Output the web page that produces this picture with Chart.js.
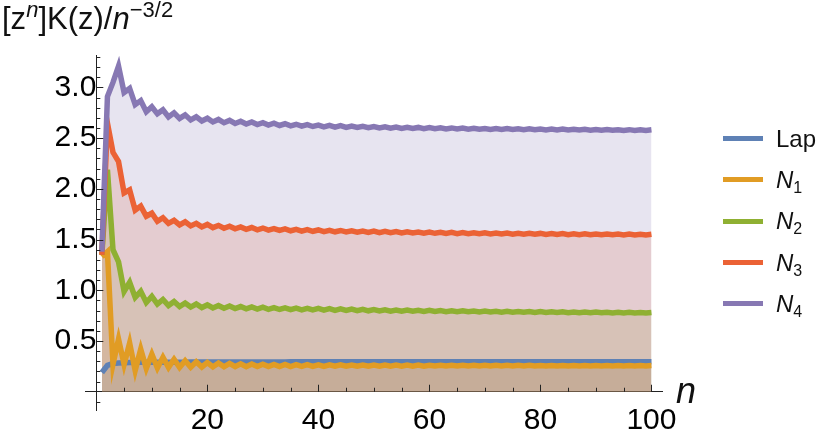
<!DOCTYPE html>
<html>
<head>
<meta charset="utf-8">
<script src="https://cdn.jsdelivr.net/npm/chart.js@4.4.0/dist/chart.umd.min.js"></script>
<style>
  body { margin: 0; background: #fff; }
  #wrap { position: relative; width: 830px; height: 438px; font-family: "Liberation Sans", Arial, sans-serif; }
  #title { position: absolute; left: 2px; top: 1px; font-size: 31px; color: #111; white-space: nowrap; }
  #title sup { font-size: 22px; vertical-align: 12px; line-height: 0; }
  #xlab { position: absolute; left: 676px; top: 370px; font-size: 36px; color: #111; font-style: italic; }
  #legend { position: absolute; left: 723px; top: 118px; }
  .item { height: 41.3px; display: flex; align-items: center; font-size: 24px; color: #111; }
  .sw { width: 40px; height: 5px; margin-right: 13px; }
  .item sub { font-size: 16px; vertical-align: -5px; line-height: 0; }
</style>
</head>
<body>
<div id="wrap">
  <canvas id="myChart" width="830" height="438"></canvas>
  <div id="title">[z<sup><i>n</i></sup>]K(z)/<i>n</i><sup>&minus;3/2</sup></div>
  <div id="xlab">n</div>
  <div id="legend"></div>
</div>
<script>
const ns = Array.from({ length: 100 }, (_, i) => i + 1);

const lap = [
  0.19, 0.26, 0.278, 0.283, 0.286, 0.288, 0.289, 0.29, 0.29, 0.291,
  0.291, 0.291, 0.292, 0.292, 0.292, 0.292, 0.293, 0.293, 0.293, 0.293,
  0.293, 0.293, 0.293, 0.294, 0.294, 0.294, 0.294, 0.294, 0.294, 0.294,
  0.294, 0.294, 0.294, 0.294, 0.295, 0.295, 0.295, 0.295, 0.295, 0.295,
  0.295, 0.295, 0.295, 0.295, 0.295, 0.295, 0.295, 0.295, 0.295, 0.295,
  0.295, 0.295, 0.295, 0.295, 0.295, 0.295, 0.295, 0.295, 0.295, 0.295,
  0.295, 0.295, 0.295, 0.295, 0.295, 0.295, 0.295, 0.295, 0.295, 0.295,
  0.296, 0.296, 0.296, 0.296, 0.296, 0.296, 0.296, 0.296, 0.296, 0.296,
  0.296, 0.296, 0.296, 0.296, 0.296, 0.296, 0.296, 0.296, 0.296, 0.296,
  0.296, 0.296, 0.296, 0.296, 0.296, 0.296, 0.296, 0.296, 0.296, 0.296
];

const n1 = [
  1.33, 1.38, 0.27, 0.52, 0.27, 0.48, 0.21, 0.42, 0.23, 0.37,
  0.235, 0.34, 0.24, 0.32, 0.24, 0.305, 0.242, 0.295, 0.244, 0.288,
  0.245, 0.283, 0.246, 0.279, 0.247, 0.276, 0.247, 0.274, 0.248, 0.272,
  0.248, 0.27, 0.249, 0.269, 0.249, 0.268, 0.25, 0.267, 0.25, 0.266,
  0.25, 0.265, 0.251, 0.265, 0.251, 0.264, 0.251, 0.264, 0.251, 0.263,
  0.252, 0.263, 0.252, 0.262, 0.252, 0.262, 0.252, 0.262, 0.252, 0.261,
  0.253, 0.261, 0.253, 0.261, 0.253, 0.261, 0.253, 0.26, 0.253, 0.26,
  0.253, 0.26, 0.253, 0.26, 0.254, 0.26, 0.254, 0.26, 0.254, 0.259,
  0.254, 0.259, 0.254, 0.259, 0.254, 0.259, 0.254, 0.259, 0.254, 0.259,
  0.254, 0.259, 0.255, 0.259, 0.255, 0.258, 0.255, 0.258, 0.255, 0.258
];

const n2 = [
  1.35, 2.19, 1.40, 1.28, 0.99, 1.08, 0.93, 0.99, 0.88, 0.94,
  0.865, 0.91, 0.85, 0.89, 0.84, 0.875, 0.835, 0.865, 0.83, 0.856,
  0.826, 0.85, 0.823, 0.845, 0.82, 0.84, 0.817, 0.836, 0.815, 0.833,
  0.813, 0.83, 0.811, 0.827, 0.809, 0.825, 0.808, 0.823, 0.806, 0.821,
  0.805, 0.819, 0.803, 0.817, 0.802, 0.815, 0.8, 0.813, 0.798, 0.81,
  0.796, 0.808, 0.795, 0.806, 0.794, 0.805, 0.793, 0.803, 0.792, 0.802,
  0.791, 0.8, 0.79, 0.799, 0.789, 0.798, 0.788, 0.796, 0.787, 0.795,
  0.786, 0.794, 0.785, 0.793, 0.784, 0.792, 0.783, 0.791, 0.782, 0.79,
  0.781, 0.789, 0.781, 0.788, 0.78, 0.787, 0.779, 0.786, 0.779, 0.785,
  0.778, 0.784, 0.777, 0.783, 0.777, 0.783, 0.776, 0.782, 0.776, 0.781
];

const n3 = [
  1.35, 2.65, 2.36, 2.27, 1.96, 1.99, 1.79, 1.83, 1.73, 1.76,
  1.68, 1.715, 1.66, 1.69, 1.645, 1.675, 1.635, 1.66, 1.625, 1.65,
  1.618, 1.64, 1.612, 1.632, 1.606, 1.625, 1.601, 1.619, 1.597, 1.614,
  1.593, 1.609, 1.59, 1.605, 1.587, 1.601, 1.584, 1.598, 1.582, 1.595,
  1.579, 1.592, 1.577, 1.59, 1.575, 1.587, 1.573, 1.585, 1.571, 1.583,
  1.569, 1.581, 1.568, 1.579, 1.566, 1.577, 1.565, 1.575, 1.563, 1.574,
  1.562, 1.572, 1.561, 1.571, 1.559, 1.569, 1.558, 1.568, 1.557, 1.566,
  1.556, 1.565, 1.555, 1.564, 1.554, 1.563, 1.553, 1.562, 1.552, 1.561,
  1.551, 1.56, 1.55, 1.559, 1.549, 1.558, 1.549, 1.557, 1.548, 1.556,
  1.547, 1.555, 1.547, 1.554, 1.546, 1.554, 1.545, 1.553, 1.545, 1.552
];

const n4 = [
  1.38, 2.91, 3.05, 3.21, 2.95, 2.99, 2.83, 2.87, 2.76, 2.81,
  2.74, 2.78, 2.71, 2.75, 2.695, 2.73, 2.68, 2.71, 2.67, 2.697,
  2.66, 2.685, 2.652, 2.675, 2.645, 2.667, 2.639, 2.66, 2.634, 2.653,
  2.629, 2.647, 2.625, 2.642, 2.621, 2.637, 2.618, 2.633, 2.615, 2.629,
  2.612, 2.626, 2.609, 2.623, 2.607, 2.62, 2.605, 2.617, 2.603, 2.615,
  2.601, 2.612, 2.599, 2.61, 2.597, 2.608, 2.596, 2.606, 2.594, 2.604,
  2.593, 2.602, 2.591, 2.601, 2.59, 2.599, 2.589, 2.598, 2.588, 2.596,
  2.587, 2.595, 2.586, 2.594, 2.585, 2.593, 2.584, 2.592, 2.583, 2.591,
  2.582, 2.59, 2.581, 2.589, 2.58, 2.588, 2.58, 2.587, 2.579, 2.586,
  2.578, 2.585, 2.578, 2.584, 2.577, 2.584, 2.576, 2.583, 2.576, 2.582
];

const xTicks = [20, 40, 60, 80, 100];
const yTicks = [0.5, 1.0, 1.5, 2.0, 2.5, 3.0];

const names = ["Lap", "N1", "N2", "N3", "N4"];
const seriesData = [lap, n1, n2, n3, n4];
const colors = ["#5e81b5", "#e19c24", "#8fb032", "#eb6235", "#8778b3"];
const fills = [
  "rgba(94,129,181,0.2)",
  "rgba(225,156,36,0.2)",
  "rgba(143,176,50,0.2)",
  "rgba(235,98,53,0.2)",
  "rgba(135,120,179,0.2)",
];

// inward ticks like Mathematica axes (major + minor)
const axisTicks = {
  id: "axisTicks",
  afterDraw(chart) {
    const { ctx, scales: { x, y } } = chart;
    const x0 = x.getPixelForValue(0);
    const y0 = y.getPixelForValue(0);
    ctx.save();
    ctx.strokeStyle = "#222";
    ctx.lineWidth = 1;
    ctx.beginPath();
    for (let v = 5; v <= 100; v += 5) {
      const px = Math.round(x.getPixelForValue(v)) + 0.5;
      const len = v % 20 === 0 ? 7 : 4;
      ctx.moveTo(px, y0);
      ctx.lineTo(px, y0 - len);
    }
    for (let k = -1; k <= 33; k++) {
      if (k === 0) continue;
      const py = Math.round(y.getPixelForValue(k / 10)) + 0.5;
      const len = k % 5 === 0 ? 7 : 4;
      ctx.moveTo(x0, py);
      ctx.lineTo(x0 + len, py);
    }
    ctx.stroke();
    ctx.restore();
  },
};

const tickFont = { family: "'Liberation Sans', Arial, sans-serif", size: 30 };

const ctx = document.getElementById("myChart");

new Chart(ctx, {
  type: "line",
  data: {
    datasets: seriesData.map((arr, i) => ({
      label: names[i],
      data: arr.map((v, j) => ({ x: ns[j], y: v })),
      borderColor: colors[i],
      backgroundColor: fills[i],
      borderWidth: 5.5,
      fill: "origin",
      order: 4 - i,
    })),
  },
  options: {
    responsive: false,
    animation: false,
    devicePixelRatio: 1,
    layout: {
      padding: { left: 85, right: 168, top: 55, bottom: 28 },
    },
    elements: {
      point: { radius: 0 },
      line: { tension: 0, borderJoinStyle: "miter" },
    },
    scales: {
      x: {
        type: "linear",
        min: -2.04,
        max: 101.9,
        position: { y: 0 },
        afterBuildTicks: (s) => {
          s.ticks = xTicks.map((v) => ({ value: v }));
        },
        grid: { drawOnChartArea: false, drawTicks: false },
        border: { color: "#222", width: 1 },
        ticks: { font: tickFont, color: "#000", padding: 11, autoSkip: false, maxRotation: 0 },
      },
      y: {
        type: "linear",
        min: -0.18,
        max: 3.32,
        position: { x: 0 },
        afterBuildTicks: (s) => {
          s.ticks = yTicks.map((v) => ({ value: v }));
        },
        grid: { drawOnChartArea: false, drawTicks: false },
        border: { color: "#222", width: 1 },
        ticks: {
          font: tickFont,
          color: "#000",
          padding: 8,
          autoSkip: false,
          callback: (v) => v.toFixed(1),
        },
      },
    },
    events: [],
    plugins: {
      legend: { display: false },
      tooltip: { enabled: false },
      filler: { drawTime: "beforeDatasetsDraw" },
    },
  },
  plugins: [axisTicks],
});

// legend: Lap, N1..N4 with italic N and subscript
const legend = document.getElementById("legend");
names.forEach((name, i) => {
  const row = document.createElement("div");
  row.className = "item";
  const sw = document.createElement("div");
  sw.className = "sw";
  sw.style.background = colors[i];
  const txt = document.createElement("span");
  txt.innerHTML = name === "Lap" ? "Lap" : "<i>N</i><sub>" + name.slice(1) + "</sub>";
  row.appendChild(sw);
  row.appendChild(txt);
  legend.appendChild(row);
});
</script>
</body>
</html>
